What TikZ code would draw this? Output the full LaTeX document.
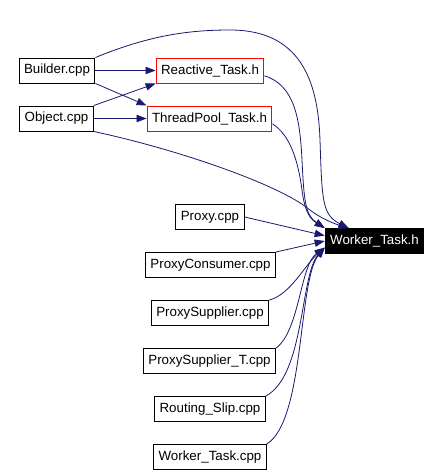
\documentclass[tikz,border=0pt]{standalone}
\usepackage{fontspec}
\setmainfont{Liberation Sans}
\usetikzlibrary{arrows.meta}
\definecolor{edgeblue}{RGB}{25,25,112}

\begin{document}
\begin{tikzpicture}[x=0.75pt,y=-0.75pt,
		filebox/.style={draw=black, line width=0.75pt, fill=white, minimum height=18.75pt, inner xsep=3.75pt, inner ysep=0pt, font=\fontsize{10}{12}\selectfont},
		hdrbox/.style={filebox, draw=red},
		mainbox/.style={filebox, fill=black, text=white},
		dep/.style={edgeblue, line width=0.6pt, -{Triangle[length=7.5pt,width=5.5pt]}}]
	\useasboundingbox (0,0) rectangle (440,475);
	
	\node[filebox] (builder) at (57,70.5) {Builder.cpp};
	\node[hdrbox] (reactive) at (210,70.5) {Reactive\_Task.h};
	\node[filebox] (object) at (56.5,118.5) {Object.cpp};
	\node[hdrbox] (threadpool) at (209.5,118.5) {ThreadPool\_Task.h};
	\node[mainbox] (workerh) at (374.5,241) {Worker\_Task.h};
	\node[filebox] (proxy) at (210,217) {Proxy.cpp};
	\node[filebox] (pconsumer) at (210.5,265) {ProxyConsumer.cpp};
	\node[filebox] (psupplier) at (210,313) {ProxySupplier.cpp};
	\node[filebox] (psuppliert) at (209.5,361) {ProxySupplier\_T.cpp};
	\node[filebox] (routing) at (210,409) {Routing\_Slip.cpp};
	\node[filebox] (workercpp) at (210,457) {Worker\_Task.cpp};
	
	\draw[dep] (builder) -- (reactive);
	\draw[dep] (builder.south east) -- (threadpool.north west);
	\draw[dep] (builder.north east) .. controls (150,35) and (190,30) .. (230,30)
		.. controls (300,30) and (318,80) .. (320,140)
		.. controls (322,200) and (322,215) .. ([xshift=18pt]workerh.north west);
	\draw[dep] (object.north east) -- (reactive.south west);
	\draw[dep] (object) -- (threadpool);
	\draw[dep] (object.south east) .. controls (180,150) and (280,185) .. (310,210)
		.. controls (320,218) and (335,224) .. ([xshift=18pt]workerh.north west);
	\draw[dep] ([yshift=-4pt]reactive.east) .. controls (295,85) and (300,120) .. (302,160)
		.. controls (304,200) and (305,215) .. (workerh.north west);
	\draw[dep] ([yshift=-4pt]threadpool.east) .. controls (290,135) and (298,160) .. (302,190)
		.. controls (305,215) and (312,220) .. (workerh.north west);
	\draw[dep] (proxy.east) -- ([yshift=4pt]workerh.west);
	\draw[dep] (pconsumer.north east) -- (workerh.west);
	\draw[dep] (psupplier.north east) .. controls (290,295) and (305,265) .. ([yshift=-5pt]workerh.west);
	\draw[dep] (psuppliert.north east) .. controls (300,330) and (300,265) .. ([yshift=-5pt]workerh.west);
	\draw[dep] (routing.north east) .. controls (305,375) and (300,275) .. ([yshift=-5pt]workerh.west);
	\draw[dep] (workercpp.north east) .. controls (305,420) and (298,280) .. ([yshift=-5pt]workerh.west);
\end{tikzpicture}
\end{document}
